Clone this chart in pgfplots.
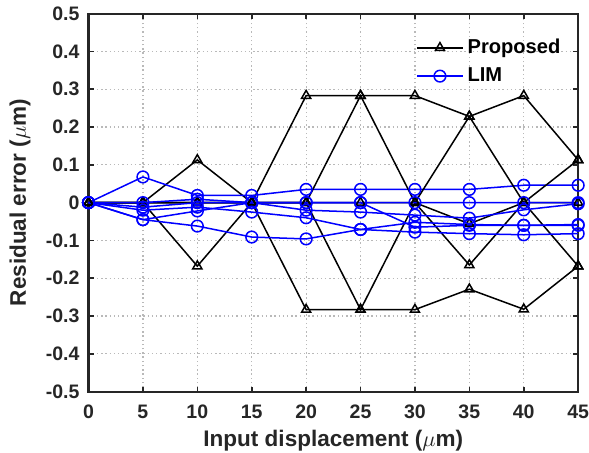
\documentclass[border=0pt]{standalone}
\usepackage{pgfplots}
\pgfplotsset{compat=1.18}
\usepackage{fontspec}
\setmainfont{Liberation Sans}
\definecolor{axgray}{rgb}{0.15,0.15,0.15}
\begin{document}
\begin{tikzpicture}
\begin{axis}[
    width=243.5pt, height=188pt, scale only axis,
    xmin=0, xmax=45, ymin=-0.5, ymax=0.5,
    xtick={0,5,10,15,20,25,30,35,40,45},
    ytick={-0.5,-0.4,-0.3,-0.2,-0.1,0,0.1,0.2,0.3,0.4,0.5},
    yticklabels={-0.5,-0.4,-0.3,-0.2,-0.1,0,0.1,0.2,0.3,0.4,0.5},
    /pgf/number format/assume math mode=true,
    axis line style={axgray, line width=1.1pt},
    every tick/.style={axgray, line width=0.8pt},
    major tick length=2.5pt,
    tick align=inside,
    xmajorgrids, ymajorgrids,
    grid style={gray!55, line width=0.6pt, dash pattern=on 0.7pt off 1.4pt},
    tick label style={font=\fontsize{9.7}{11}\selectfont\bfseries, text=axgray},
    xticklabel style={yshift=-3pt, inner xsep=0pt},
    yticklabel style={xshift=-1pt},
    label style={font=\fontsize{11.2}{13}\selectfont\bfseries, text=axgray},
    xlabel={Input displacement ($\mu$m)},
    ylabel={Residual error ($\mu$m)},
    xlabel style={yshift=-1pt, inner ysep=1pt},
    ylabel style={yshift=3pt, inner ysep=1pt},
    legend style={at={(0.985,0.955)}, anchor=north east, draw=none, fill=none,
        font=\fontsize{10}{12}\selectfont\bfseries, row sep=1.5pt},
    legend cell align=left,
    legend image code/.code={\draw[mark repeat=2,mark phase=2] plot coordinates {(0cm,0cm)(0.4cm,0cm)(0.8cm,0cm)};},
    prop/.style={black, line width=0.75pt, mark=triangle, mark size=2.6pt, mark options={solid}},
    lim/.style={blue, line width=0.75pt, mark=o, mark size=2.9pt, mark options={solid}},
]
% Proposed
\addplot[prop] coordinates {(0,0)(5,0)(10,0.113)(15,0)(20,0.283)(25,0.283)(30,0.283)(35,0.228)(40,0.283)(45,0.113)};
\addlegendentry{Proposed}
\addplot[lim] coordinates {(0,0)(5,0.068)(10,0.019)(15,0.019)(20,0.035)(25,0.035)(30,0.035)(35,0.035)(40,0.046)(45,0.046)};
\addlegendentry{LIM}
\addplot[prop, forget plot] coordinates {(0,0)(5,0)(10,-0.168)(15,0)(20,-0.283)(25,-0.283)(30,-0.283)(35,-0.229)(40,-0.282)(45,-0.168)};
\addplot[prop, forget plot] coordinates {(0,0)(5,0)(10,0)(15,0)(20,0)(25,0.283)(30,0)(35,0.228)(40,0)(45,-0.168)};
\addplot[prop, forget plot] coordinates {(0,0)(5,0)(10,0)(15,0)(20,0)(25,-0.283)(30,0)(35,-0.165)(40,0)(45,0.113)};
\addplot[prop, forget plot] coordinates {(0,0)(5,0)(10,0)(15,0)(20,0)(25,0)(30,0)(35,-0.056)(40,0)(45,0)};
% LIM
\addplot[lim, forget plot] coordinates {(0,0)(5,0)(10,0.009)(15,0)(20,0)(25,0)(30,0)(35,0)(40,0)(45,0)};
\addplot[lim, forget plot] coordinates {(0,0)(5,-0.012)(10,0)(15,0)(20,-0.02)(25,-0.025)(30,-0.033)(35,-0.041)(40,-0.019)(45,-0.003)};
\addplot[lim, forget plot] coordinates {(0,0)(5,-0.02)(10,-0.012)(15,-0.025)(20,-0.04)(25,-0.071)(30,-0.078)(35,-0.082)(40,-0.085)(45,-0.082)};
\addplot[lim, forget plot] coordinates {(0,0)(5,-0.045)(10,-0.062)(15,-0.091)(20,-0.096)(25,-0.071)(30,-0.052)(35,-0.058)(40,-0.06)(45,-0.06)};
\addplot[lim, forget plot] coordinates {(0,0)(5,-0.045)(10,-0.022)(15,0)(20,0)(25,0)(30,-0.065)(35,-0.06)(40,-0.06)(45,-0.058)};
\end{axis}
% a little white space left of the y label, as in the reference
\path (current bounding box.west) ++(-3.8pt,0) coordinate (padl);
\end{tikzpicture}
\end{document}
